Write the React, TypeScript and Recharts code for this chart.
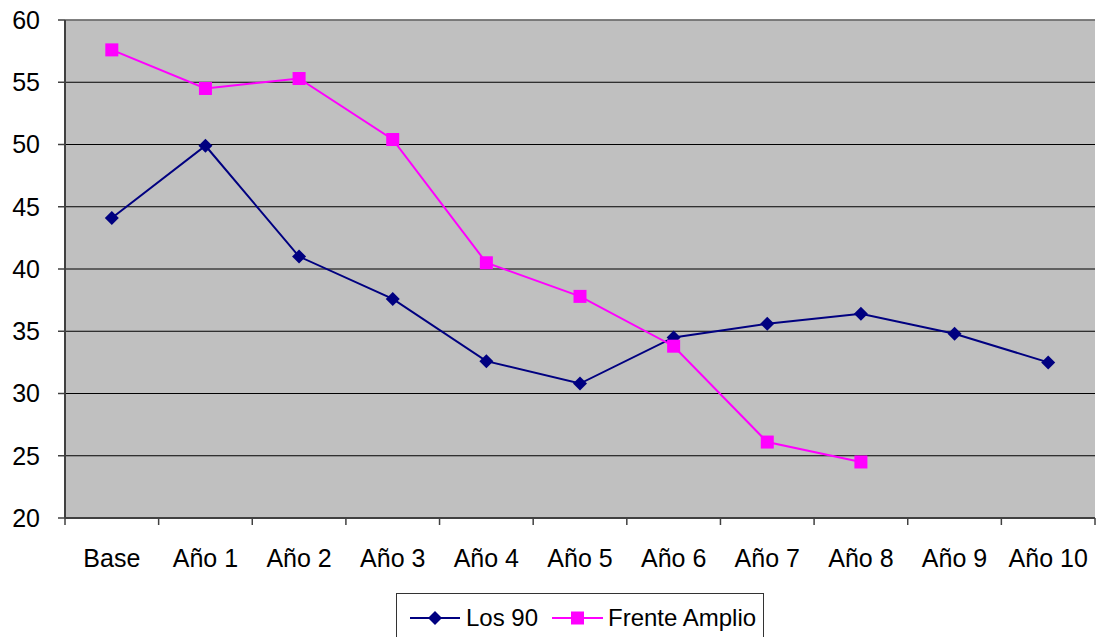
import React from 'react';
import { LineChart, Line, XAxis, YAxis, CartesianGrid, Legend, ReferenceLine } from 'recharts';

const categories = ['Base', 'Año 1', 'Año 2', 'Año 3', 'Año 4', 'Año 5', 'Año 6', 'Año 7', 'Año 8', 'Año 9', 'Año 10'];
const los90 = [44.1, 49.9, 41.0, 37.6, 32.6, 30.8, 34.5, 35.6, 36.4, 34.8, 32.5];
const frenteAmplio: (number | null)[] = [57.6, 54.5, 55.3, 50.4, 40.5, 37.8, 33.8, 26.1, 24.5, null, null];
const yTicks = [20, 25, 30, 35, 40, 45, 50, 55, 60];

const data = categories.map((c, i) => ({ name: c, los90: los90[i], frente: frenteAmplio[i] }));

const W = 1099;
const H = 637;
const LEFT = 65;
const RIGHT = 4;
const PLOT_W = W - LEFT - RIGHT;
const BAND = PLOT_W / categories.length;
const FONT = '"Liberation Sans", Arial, sans-serif';
const NAVY = '#000080';
const MAGENTA = '#FF00FF';

const Diamond = (props: any) => {
  const { cx, cy } = props;
  if (cx == null || cy == null || props.value == null) return <g />;
  const s = 7;
  return <polygon points={`${cx},${cy - s} ${cx + s},${cy} ${cx},${cy + s} ${cx - s},${cy}`} fill={NAVY} />;
};

const Square = (props: any) => {
  const { cx, cy } = props;
  if (cx == null || cy == null || props.value == null) return <g />;
  const s = 6.5;
  return <rect x={cx - s} y={cy - s} width={s * 2} height={s * 2} fill={MAGENTA} />;
};

const XTick = (props: any) => {
  const { x, y, payload, index } = props;
  const left = x - BAND / 2;
  return (
    <g>
      <line x1={left} y1={y} x2={left} y2={y + 7} stroke="#404040" strokeWidth={1.5} />
      {index === categories.length - 1 && (
        <line x1={x + BAND / 2} y1={y} x2={x + BAND / 2} y2={y + 7} stroke="#404040" strokeWidth={1.5} />
      )}
      <text x={x} y={y + 49} textAnchor="middle" fontSize={25} fontFamily={FONT} fill="#000">
        {payload.value}
      </text>
    </g>
  );
};

const LegendContent = () => (
  <div
    style={{
      width: 368,
      height: 48,
      border: '1.5px solid #333',
      background: '#fff',
      boxSizing: 'border-box',
      fontFamily: FONT,
      fontSize: 24,
      position: 'relative',
    }}
  >
    <svg width={368} height={48} style={{ position: 'absolute', left: 0, top: 0 }}>
      <line x1={13} y1={24} x2={63} y2={24} stroke={NAVY} strokeWidth={2} />
      <polygon points="38,17 45,24 38,31 31,24" fill={NAVY} />
      <text x={69} y={32} fontSize={24} fontFamily={FONT} fill="#000">Los 90</text>
      <line x1={155} y1={24} x2={206} y2={24} stroke={MAGENTA} strokeWidth={2} />
      <rect x={174} y={17.5} width={13} height={13} fill={MAGENTA} />
      <text x={211} y={32} fontSize={24} fontFamily={FONT} fill="#000">Frente Amplio</text>
    </svg>
  </div>
);

export default function App() {
  return (
    <div style={{ position: 'absolute', left: 0, top: 0, width: W, height: H, background: '#fff' }}>
      <LineChart width={W} height={H} data={data} margin={{ top: 20, right: RIGHT, left: 0, bottom: 0 }}>
        <CartesianGrid vertical={false} stroke="#000" strokeWidth={1.2} fill="#C0C0C0" fillOpacity={1} />
        <XAxis
          dataKey="name"
          scale="band"
          height={71}
          tickLine={false}
          tickSize={0}
          tickMargin={0}
          axisLine={{ stroke: '#404040', strokeWidth: 2 }}
          tick={<XTick />}
          interval={0}
        />
        <YAxis
          domain={[20, 60]}
          ticks={yTicks}
          width={LEFT}
          tickSize={7}
          tickMargin={18}
          tickLine={{ stroke: '#404040', strokeWidth: 1.5 }}
          axisLine={{ stroke: '#404040', strokeWidth: 2 }}
          tick={{ fontSize: 25, fill: '#000', fontFamily: FONT }}
          allowDataOverflow
        />
        <YAxis yAxisId="r" orientation="right" width={0} tick={false} tickLine={false} axisLine={{ stroke: '#808080', strokeWidth: 1.5 }} />
        <ReferenceLine y={60} stroke="#808080" strokeWidth={1.5} />
        <Legend
          verticalAlign="bottom"
          content={<LegendContent />}
          wrapperStyle={{ position: 'absolute', left: 396, top: 593, width: 368, height: 48 }}
        />
        <Line
          type="linear"
          dataKey="los90"
          name="Los 90"
          stroke={NAVY}
          strokeWidth={2}
          dot={<Diamond />}
          activeDot={false}
          isAnimationActive={false}
        />
        <Line
          type="linear"
          dataKey="frente"
          name="Frente Amplio"
          stroke={MAGENTA}
          strokeWidth={2}
          dot={<Square />}
          activeDot={false}
          connectNulls={false}
          isAnimationActive={false}
        />
      </LineChart>
    </div>
  );
}
